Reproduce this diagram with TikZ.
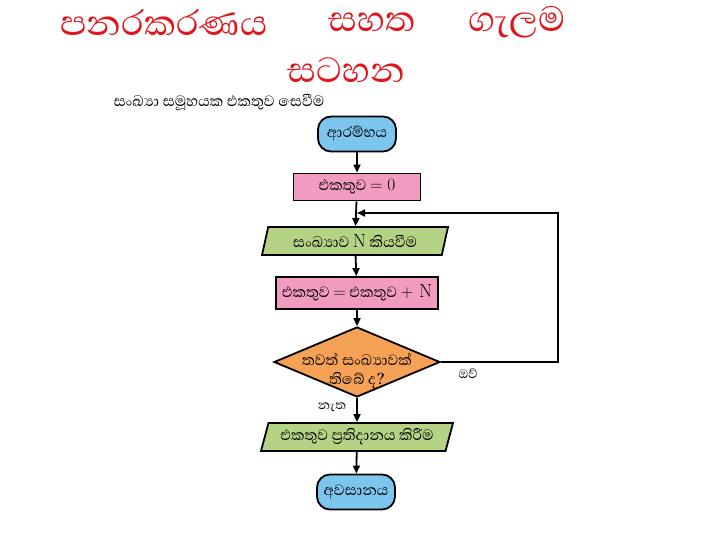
\documentclass[tikz,border=0pt]{standalone}
\usepackage{fontspec}
\usepackage{tikz}
\usetikzlibrary{positioning, arrows.meta, shapes.geometric}
\newfontfamily\sinhala[Script=Sinhala]{Abhaya Libre}
\definecolor{cTitle}  {HTML}{E0141B}
\definecolor{cTerm}   {HTML}{7CC6EE}
\definecolor{cProc}   {HTML}{F29BC1}
\definecolor{cIO}     {HTML}{B5D385}
\definecolor{cDecide} {HTML}{F5A256}

\begin{document}
\begin{tikzpicture}[x=1pt, y=-1pt,
    box/.style={draw, line width=1.8pt, inner sep=1pt,
      font=\sinhala\fontsize{19}{22}\selectfont},
    termbox/.style={box, fill=cTerm, rounded corners=13pt,
      minimum width=78pt, minimum height=35pt},
    procbox/.style={box, fill=cProc, minimum height=27pt},
    iobox/.style={box, fill=cIO, trapezium, trapezium left angle=68,
      trapezium right angle=112, trapezium stretches body,
      minimum height=28pt},
    decidebox/.style={box, fill=cDecide, diamond, aspect=2.4,
      minimum width=166pt, minimum height=70pt, inner sep=0pt},
    flow/.style={line width=1.8pt, -{Triangle[length=8pt, width=7pt]}},
    lbl/.style={font=\sinhala\fontsize{16}{18}\selectfont},
    heading/.style={text=cTitle, font=\sinhala\fontsize{45}{50}\selectfont},
  ]
  \useasboundingbox (0,0) rectangle (720,540);

  % heading
  \node[heading] (title1) at (164,22) {පනරකරණය};
  \node[heading] (title2) at (372,22) {සහත};
  \node[heading] (title3) at (517,22) {ගැලම};
  \node[heading] (title4) at (346,70) {සටහන};
  \node[font=\sinhala\fontsize{19}{21}\selectfont, anchor=west] (sub) at (110,103)
    {සංඛ්‍යා සමූහයක එකතුව සෙවීම};

  % flow chart, top to bottom
  \node[termbox] (start) at (357,134) {ආරම්භය};
  \node[procbox, minimum width=127pt] (zero) at (357,187) {එකතුව {\rmfamily$=0$}};
  \node[iobox, minimum width=186pt] (read) at (355,241) {සංඛ්‍යාව {\rmfamily N} කියවීම};
  \node[procbox, minimum width=162pt, minimum height=32pt] (add) at (357,293)
    {එකතුව {\rmfamily$=$} එකතුව {\rmfamily$+$ N}};
  \node[decidebox] (more) at (357,362)
    {\smash{\makebox[0pt]{\raisebox{-13pt}{\begin{tabular}{@{}c@{}}තවත් සංඛ්‍යාවක්\\[-3pt]තිබේ ද?\end{tabular}}}}};
  \node[iobox, minimum width=192pt] (out) at (357,437) {එකතුව ප්‍රතිදානය කිරීම};
  \node[termbox] (stop) at (356,492) {අවසානය};

  \coordinate (join) at (357,213);
  \coordinate (loop) at (558,213);

  \draw[flow] (start) -- (zero);
  \draw[flow] (zero) -- (read);
  \draw[flow] (read) -- (add);
  \draw[flow] (add) -- (more);
  \draw[flow] (more) -- (out);
  \draw[flow] (out) -- (stop);
  \draw[flow] (more.east) -| (loop) -- (join);

  % branch labels
  \node[lbl] (yes) at (468,374) {ඔව්};
  \node[lbl] (no) at (332,407) {නැත};
\end{tikzpicture}
\end{document}
